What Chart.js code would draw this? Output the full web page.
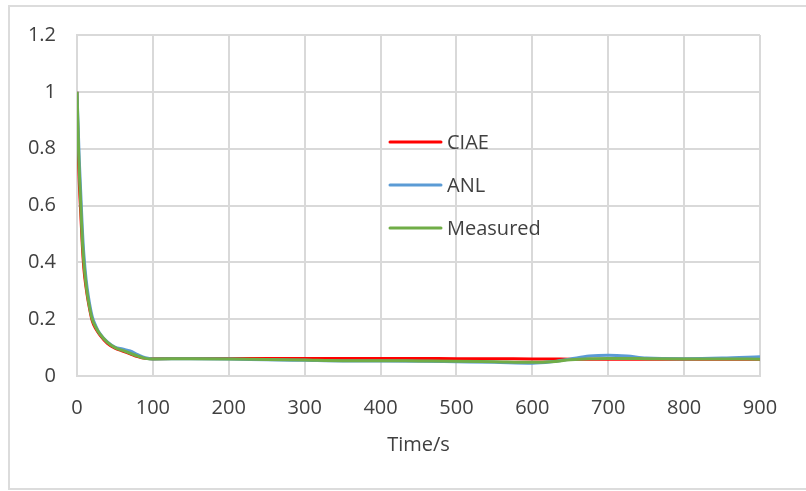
<!DOCTYPE html>
<html lang="en">
<head>
<meta charset="UTF-8">
<title>CIAE / ANL / Measured</title>
<script src="https://cdn.jsdelivr.net/npm/chart.js"></script>
<style>
    body { margin: 0; background: #fff; }
    .frame {
        position: absolute; left: 8px; top: 5px;
        width: 900px; height: 481px;
        border: 2px solid #dcdcdc;
    }
    .chart-box { position: absolute; left: 0; top: 0; width: 806px; height: 491px; }
</style>
</head>
<body>
<div class="frame"></div>
<div class="chart-box"><canvas id="chart"></canvas></div>
<script>
    // ---------- data ----------
    const times    = [0, 1, 2, 3, 5, 7, 9, 12, 15, 20, 25, 30, 40, 50, 60, 70, 80, 90, 100,
                      150, 200, 250, 300, 350, 400, 450, 500, 550, 600, 625, 650, 675, 700, 725, 750, 800, 850, 900];
    const ciae     = [1, 0.86, 0.76, 0.68, 0.57, 0.46, 0.38, 0.31, 0.26, 0.195, 0.165, 0.145, 0.115, 0.098, 0.088, 0.078, 0.068, 0.062, 0.061,
                      0.062, 0.062, 0.062, 0.062, 0.062, 0.062, 0.062, 0.061, 0.061, 0.06, 0.06, 0.059, 0.059, 0.059, 0.059, 0.059, 0.059, 0.059, 0.059];
    const anl      = [1, 0.92, 0.84, 0.76, 0.64, 0.52, 0.43, 0.34, 0.28, 0.21, 0.175, 0.15, 0.12, 0.102, 0.095, 0.088, 0.075, 0.064, 0.06,
                      0.061, 0.06, 0.057, 0.055, 0.053, 0.053, 0.052, 0.05, 0.048, 0.045, 0.05, 0.06, 0.07, 0.073, 0.07, 0.063, 0.061, 0.063, 0.068];
    const measured = [1, 0.9, 0.8, 0.72, 0.6, 0.48, 0.4, 0.32, 0.265, 0.2, 0.17, 0.148, 0.118, 0.1, 0.09, 0.08, 0.07, 0.062, 0.06,
                      0.061, 0.06, 0.058, 0.056, 0.054, 0.054, 0.053, 0.052, 0.05, 0.048, 0.05, 0.057, 0.061, 0.062, 0.062, 0.061, 0.06, 0.06, 0.059];
    const seriesNames  = ['CIAE', 'ANL', 'Measured'];
    const xTickValues  = [0, 100, 200, 300, 400, 500, 600, 700, 800, 900];
    const yTickValues  = [0, 0.2, 0.4, 0.6, 0.8, 1, 1.2];
    const xTitle = 'Time/s';

    // ---------- styles ----------
    const colors = ['#ff0000', '#5b9bd5', '#70ad47'];
    const FONT = '"Open Sans", "Noto Sans", sans-serif';
    const TEXT = '#404040';
    const GRID = '#d9d9d9';

    function toPoints(values) {
        return times.map((t, i) => ({ x: t, y: values[i] }));
    }

    // legend drawn inside the plot, like the original
    const insideLegend = {
        id: 'insideLegend',
        afterDatasetsDraw(chart) {
            const ctx = chart.ctx;
            const rows = [142, 185, 228];
            chart.data.datasets.forEach((ds, i) => {
                ctx.save();
                ctx.strokeStyle = ds.borderColor;
                ctx.lineWidth = 3;
                ctx.lineCap = 'round';
                ctx.beginPath();
                ctx.moveTo(390, rows[i]);
                ctx.lineTo(441, rows[i]);
                ctx.stroke();
                ctx.fillStyle = TEXT;
                ctx.font = '20px ' + FONT;
                ctx.textBaseline = 'middle';
                ctx.fillText(ds.label, 447, rows[i] + 1);
                ctx.restore();
            });
        }
    };

    // first series at the bottom, Measured drawn on top
    const datasets = [ciae, anl, measured].map((values, i) => ({
        label: seriesNames[i],
        data: toPoints(values),
        borderColor: colors[i],
        backgroundColor: colors[i],
        borderWidth: 3,
        pointRadius: 0,
        cubicInterpolationMode: 'monotone',
        fill: false,
        order: 2 - i
    }));

    new Chart(document.getElementById('chart'), {
        type: 'line',
        data: { datasets },
        plugins: [insideLegend],
        options: {
            responsive: true,
            maintainAspectRatio: false,
            animation: false,
            layout: { padding: { top: 35, right: 46, bottom: 0, left: 0 } },
            plugins: { legend: { display: false }, tooltip: { enabled: false } },
            scales: {
                x: {
                    type: 'linear',
                    min: 0, max: 900,
                    afterBuildTicks(scale) { scale.ticks = xTickValues.map(v => ({ value: v })); },
                    afterFit(scale) { scale.height = 491 - 376; },
                    grid: { color: GRID, lineWidth: 2, drawTicks: false },
                    border: { color: GRID, width: 2 },
                    ticks: { color: TEXT, padding: 20, font: { family: FONT, size: 20 },
                             callback: v => String(v) },
                    title: { display: true, text: xTitle, color: TEXT, padding: { top: 8, bottom: 34 },
                             font: { family: FONT, size: 20 } }
                },
                y: {
                    min: 0, max: 1.2,
                    afterBuildTicks(scale) { scale.ticks = yTickValues.map(v => ({ value: v })); },
                    afterFit(scale) { scale.width = 77; },
                    grid: { color: GRID, lineWidth: 2, drawTicks: false },
                    border: { color: GRID, width: 2 },
                    ticks: { color: TEXT, padding: 21, font: { family: FONT, size: 20 },
                             callback: v => String(v) }
                }
            }
        }
    });
</script>
</body>
</html>
